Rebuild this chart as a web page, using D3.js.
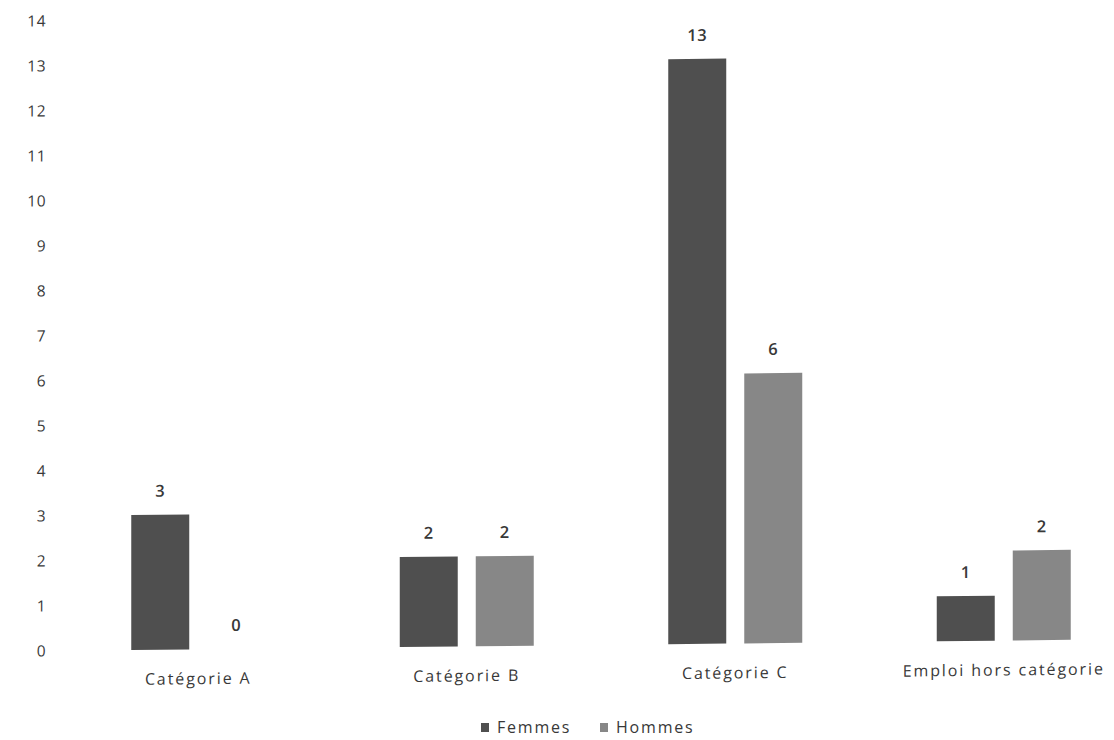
<!DOCTYPE html>
<html>
<head>
<meta charset="utf-8">
<script src="https://cdn.jsdelivr.net/npm/d3@7"></script>
<style>
  html, body { margin: 0; padding: 0; background: #fff; }
  svg { display: block; }
  text { font-family: "Open Sans", "DejaVu Sans", sans-serif; fill: #383838; }
</style>
</head>
<body>
<svg id="chart" width="1114" height="740"></svg>
<script>
// Effectifs par catégorie et par sexe
const categories = ["Catégorie A", "Catégorie B", "Catégorie C", "Emploi hors catégorie"];
const seriesNames = ["Femmes", "Hommes"];
const femmes = [3, 2, 13, 1];
const hommes = [0, 2, 6, 2];
const yTicks = [0, 1, 2, 3, 4, 5, 6, 7, 8, 9, 10, 11, 12, 13, 14];

const colors = { Femmes: "#4f4f4f", Hommes: "#878787" };

const svg = d3.select("#chart");

// The plot is slightly sheared so the baseline climbs gently to the right
const plot = svg.append("g")
  .attr("transform", "translate(40,0) skewY(-0.62) translate(-40,0)");

const x0 = d3.scaleBand().domain(categories).range([64, 1138]).padding(0);
const x1 = d3.scaleBand().domain(seriesNames).range([-67, 67]).paddingInner(0.237).paddingOuter(0);
const y = d3.scaleLinear().domain([0, 14]).range([651, 21]);

// Y axis: labels only
const yAxis = d3.axisLeft(y).tickValues(yTicks).tickSize(0).tickPadding(0).tickFormat(d3.format("d"));
const gy = plot.append("g").attr("transform", "translate(46,0)").call(yAxis);
gy.select(".domain").remove();
gy.selectAll("text")
  .style("font-family", '"Open Sans", "DejaVu Sans", sans-serif')
  .style("font-size", "15.5px")
  .style("letter-spacing", "0.5px")
  .attr("fill", "#383838");

const rows = categories.map((c, i) => ({ cat: c, values: [
  { key: "Femmes", value: femmes[i] },
  { key: "Hommes", value: hommes[i] }
]}));

const groups = plot.selectAll("g.cat").data(rows).join("g")
  .attr("class", "cat")
  .attr("transform", d => `translate(${x0(d.cat) + x0.bandwidth() / 2},0)`);

groups.selectAll("rect").data(d => d.values).join("rect")
  .attr("x", d => x1(d.key))
  .attr("width", x1.bandwidth())
  .attr("y", d => y(d.value))
  .attr("height", d => y(0) - y(d.value))
  .attr("fill", d => colors[d.key]);

// Value labels above each bar
groups.selectAll("text.val").data(d => d.values).join("text")
  .attr("class", "val")
  .attr("x", d => x1(d.key) + x1.bandwidth() / 2)
  .attr("y", d => y(d.value) - 18)
  .attr("text-anchor", "middle")
  .style("font-size", "16.5px")
  .style("font-weight", "600")
  .style("letter-spacing", "0.5px")
  .text(d => d.value);

// Category labels
const gx = plot.append("g").attr("transform", `translate(0,${y(0) + 35})`);
gx.selectAll("text").data(categories).join("text")
  .attr("x", d => x0(d) + x0.bandwidth() / 2)
  .attr("y", 0)
  .attr("text-anchor", "middle")
  .style("font-size", "16px")
  .style("letter-spacing", "1.9px")
  .text(d => d);

// Legend
const legend = svg.append("g").attr("transform", "translate(481,733)");
const legendX = [0, 119];
seriesNames.forEach((s, i) => {
  const g = legend.append("g").attr("transform", `translate(${legendX[i]},0)`);
  g.append("rect").attr("x", 0).attr("y", -10).attr("width", 8).attr("height", 9).attr("fill", colors[s]);
  g.append("text").attr("x", 16).attr("y", 0).style("font-size", "16px").style("letter-spacing", "1.8px").text(s);
});
</script>
</body>
</html>
